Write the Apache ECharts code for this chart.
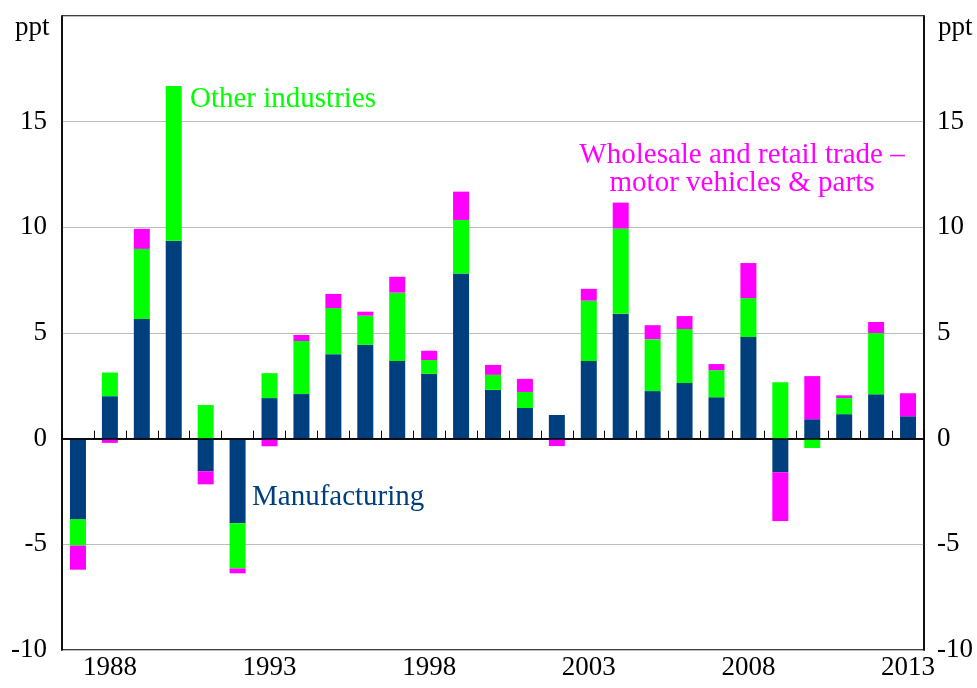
<!DOCTYPE html>
<html>
<head>
<meta charset="utf-8">
<script src="https://cdn.jsdelivr.net/npm/echarts@6/dist/echarts.min.js"></script>
<style>
  html, body { margin: 0; padding: 0; background: #fff; }
  #chart { width: 977px; height: 688px; }
</style>
</head>
<body>
<div id="chart"></div>
<script>
var years = ['1987', '1988', '1989', '1990', '1991', '1992', '1993', '1994', '1995',
    '1996', '1997', '1998', '1999', '2000', '2001', '2002', '2003', '2004', '2005',
    '2006', '2007', '2008', '2009', '2010', '2011', '2012', '2013'];
var shownYears = ['1988', '1993', '1998', '2003', '2008', '2013'];

// contributions, ppt
var manufacturing = [-3.82, 2.01, 5.66, 9.36, -1.54, -4.0, 1.92, 2.11, 4.0, 4.44, 3.68, 3.07, 7.81,
    2.31, 1.45, 1.12, 3.68, 5.91, 2.25, 2.63, 1.96, 4.81, -1.59, 0.92, 1.16, 2.1, 1.06];
var otherIndustries = [-1.24, 1.12, 3.32, 7.33, 1.59, -2.14, 1.18, 2.51, 2.18, 1.38, 3.23, 0.65, 2.54,
    0.71, 0.76, 0, 2.85, 4.03, 2.46, 2.56, 1.28, 1.84, 2.67, -0.44, 0.76, 2.9, 0];
var wholesale = [-1.14, -0.2, 0.95, 0, -0.62, -0.23, -0.36, 0.29, 0.67, 0.19, 0.75, 0.44, 1.34,
    0.47, 0.62, -0.35, 0.56, 1.23, 0.66, 0.61, 0.29, 1.66, -2.31, 2.04, 0.13, 0.52, 1.09];

var font = 'Liberation Serif';
var blue = '#003f7d', green = '#00ff00', pink = '#ff00ff';

var myChart = echarts.init(document.getElementById('chart'));

function yAxis(pos, grid) {
    return {
        type: 'value',
        position: pos,
        min: -10,
        max: 20,
        interval: 5,
        axisLine: { show: true, lineStyle: { color: '#000', width: 1.5 } },
        axisTick: { show: false },
        axisLabel: {
            fontFamily: font,
            fontSize: 27,
            color: '#000',
            margin: pos == 'left' ? 15 : 13,
            formatter: function (v) { return v == 20 ? '' : String(v); }
        },
        splitLine: { show: grid, lineStyle: { color: '#bdbdbd', width: 1 } }
    };
}

var option = {
    animation: false,
    grid: {
        left: 62, right: 53, top: 16, bottom: 38,
        show: true, borderColor: '#000', borderWidth: 1.5
    },
    xAxis: {
        type: 'category',
        data: years,
        boundaryGap: true,
        axisLine: { show: true, lineStyle: { color: '#000', width: 1.5 } },
        axisTick: {
            show: true, inside: true, length: 8, interval: 0, alignWithLabel: false,
            lineStyle: { color: '#000', width: 1 }
        },
        axisLabel: {
            interval: 0,
            fontFamily: font,
            fontSize: 27,
            color: '#000',
            margin: 4,
            formatter: function (v) { return shownYears.indexOf(v) >= 0 ? v : ''; }
        }
    },
    yAxis: [yAxis('left', true), yAxis('right', false)],
    graphic: [
        { type: 'text', left: 15, top: 14, style: { text: 'ppt', font: '27px "Liberation Serif"', fill: '#000' } },
        { type: 'text', left: 938, top: 14, style: { text: 'ppt', font: '27px "Liberation Serif"', fill: '#000' } },
        { type: 'text', left: 190, top: 85, style: { text: 'Other industries', font: '29px "Liberation Serif"', fill: green } },
        { type: 'text', left: 252, top: 483, style: { text: 'Manufacturing', font: '29px "Liberation Serif"', fill: blue } },
        {
            type: 'text', x: 742, y: 141,
            style: {
                text: 'Wholesale and retail trade \u2013\nmotor vehicles & parts',
                font: '29px "Liberation Serif"', fill: pink,
                align: 'center', verticalAlign: 'top', lineHeight: 28
            }
        }
    ],
    series: [
        {
            name: 'Manufacturing', type: 'bar', stack: 'total', barWidth: 16,
            data: manufacturing, itemStyle: { color: blue },
            markLine: {
                silent: true, symbol: 'none', label: { show: false },
                lineStyle: { color: '#000', width: 1.5, type: 'solid' },
                data: [{ yAxis: 0 }], z: 10
            }
        },
        {
            name: 'Other industries', type: 'bar', stack: 'total', barWidth: 16,
            data: otherIndustries, itemStyle: { color: green }
        },
        {
            name: 'Wholesale and retail trade', type: 'bar', stack: 'total', barWidth: 16,
            data: wholesale, itemStyle: { color: pink }
        }
    ]
};

myChart.setOption(option);
</script>
</body>
</html>
